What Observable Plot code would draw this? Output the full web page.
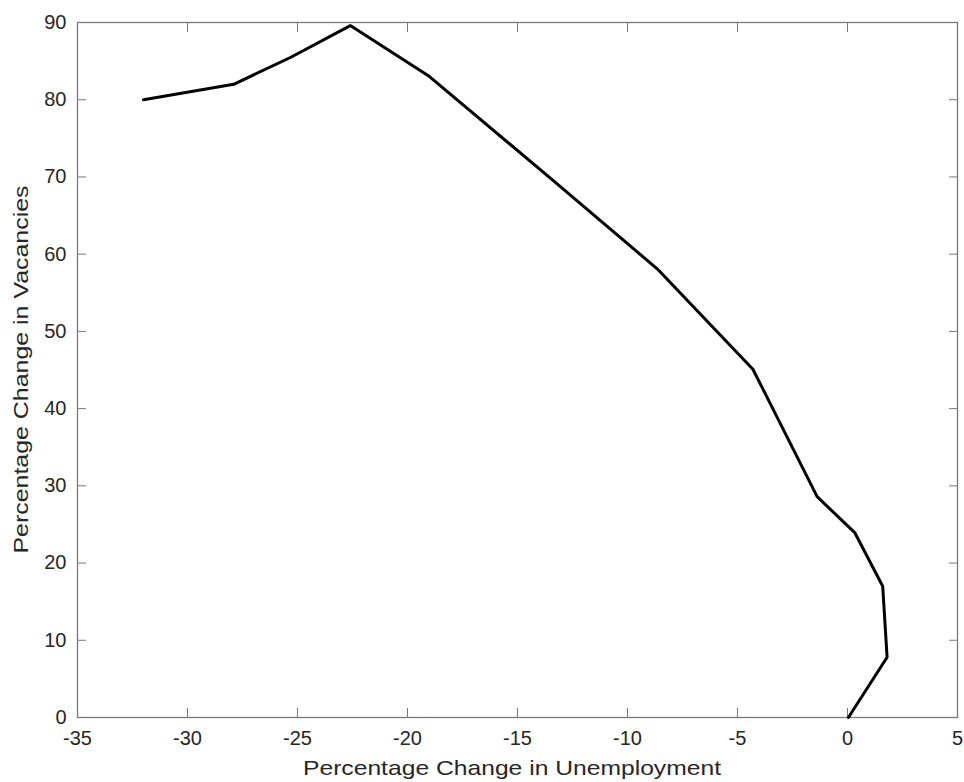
<!DOCTYPE html>
<html>
<head>
<meta charset="utf-8">
<script src="https://cdn.jsdelivr.net/npm/d3@7"></script>
<script src="https://cdn.jsdelivr.net/npm/@observablehq/plot@0.6"></script>
<style>
  html, body { margin: 0; padding: 0; background: #fff; }
  svg { display: block; }
</style>
</head>
<body>
<div id="chart"></div>
<script>
const unemploymentChange = [-32.0, -27.9, -25.3, -22.6, -19.0, -13.4, -8.65, -4.3, -1.38, 0.34, 1.6, 1.8, 0.04];
const vacancyChange      = [80.0, 82.0, 85.5, 89.6, 83.0, 69.6, 58.1, 45.1, 28.6, 23.9, 17.0, 7.8, 0.0];
const xTicks = [-35, -30, -25, -20, -15, -10, -5, 0, 5];
const yTicks = [0, 10, 20, 30, 40, 50, 60, 70, 80, 90];
const xLabel = "Percentage Change in Unemployment";
const yLabel = "Percentage Change in Vacancies";

const data = unemploymentChange.map((u, i) => ({u, v: vacancyChange[i]}));
const axisColor = "#7a7a7a";
const textColor = "#262626";
const font = "'Liberation Sans', Arial, Helvetica, sans-serif";
const fmt = d => `${d}`;

const chart = Plot.plot({
  width: 964,
  height: 782,
  marginLeft: 77,
  marginRight: 7,
  marginTop: 22,
  marginBottom: 65,
  style: {fontFamily: font, fontSize: "20px", color: textColor, background: "#fff"},
  x: {domain: [-35, 5]},
  y: {domain: [0, 90]},
  marks: [
    Plot.frame({stroke: axisColor, strokeWidth: 1.3}),
    // tick labels
    Plot.axisX(xTicks, {anchor: "bottom", tickSize: 0, tickPadding: 13, tickFormat: fmt, label: null, fill: textColor, fontSize: 20}),
    Plot.axisY(yTicks, {anchor: "left", tickSize: 0, tickPadding: 11, tickFormat: fmt, label: null, fill: textColor, fontSize: 20}),
    // inward ticks on all four sides
    Plot.axisX(xTicks, {anchor: "bottom", tickSize: -9, text: null, label: null, stroke: axisColor}),
    Plot.axisX(xTicks, {anchor: "top", tickSize: -9, text: null, label: null, stroke: axisColor}),
    Plot.axisY(yTicks, {anchor: "left", tickSize: -9, text: null, label: null, stroke: axisColor}),
    Plot.axisY(yTicks, {anchor: "right", tickSize: -9, text: null, label: null, stroke: axisColor}),
    Plot.line(data, {x: "u", y: "v", stroke: "#000", strokeWidth: 3, strokeLinejoin: "miter", curve: "linear"})
  ]
});

const svg = d3.select(chart);
svg.append("text")
  .attr("x", 512).attr("y", 775)
  .attr("text-anchor", "middle")
  .attr("fill", textColor)
  .attr("textLength", 418)
  .attr("lengthAdjust", "spacingAndGlyphs")
  .style("font-size", "21px")
  .style("font-family", font)
  .text(xLabel);
svg.append("text")
  .attr("transform", `translate(28, ${(22 + 717) / 2}) rotate(-90)`)
  .attr("text-anchor", "middle")
  .attr("fill", textColor)
  .attr("textLength", 368)
  .attr("lengthAdjust", "spacingAndGlyphs")
  .style("font-size", "21px")
  .style("font-family", font)
  .text(yLabel);

document.getElementById("chart").appendChild(chart);
</script>
</body>
</html>
